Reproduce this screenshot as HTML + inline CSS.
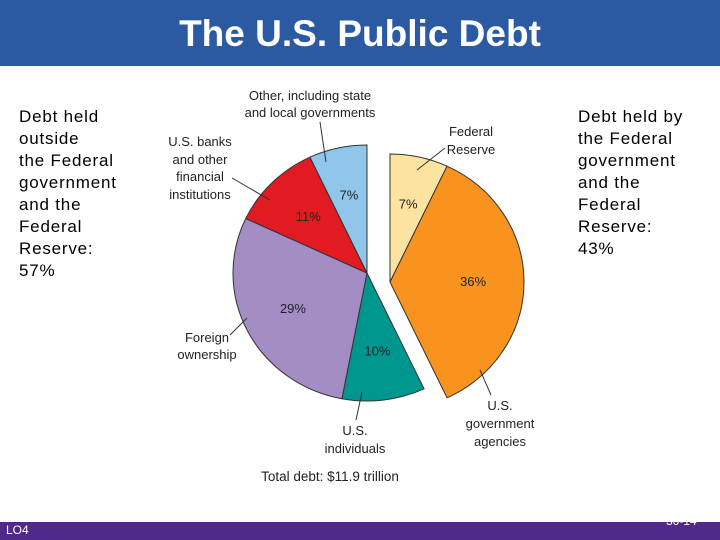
<!DOCTYPE html>
<html><head><meta charset="utf-8"><style>
body{margin:0;width:720px;height:540px;overflow:hidden;background:#fff;font-family:"Liberation Sans",sans-serif;position:relative}
.t{position:absolute}
</style></head><body>
<div class="t" style="left:0;top:0;width:720px;height:66px;background:#2b5aa3"></div>
<div class="t" style="left:0;top:13px;width:720px;text-align:center;color:#fff;font-weight:bold;font-size:37px">The U.S. Public Debt</div>
<div class="t" style="left:19px;top:106px;font-size:17px;letter-spacing:0.8px;line-height:22px;color:#000">Debt held<br>outside<br>the Federal<br>government<br>and the<br>Federal<br>Reserve:<br>57%</div>
<div class="t" style="left:578px;top:106px;font-size:17px;letter-spacing:0.8px;line-height:22px;color:#000">Debt held by<br>the Federal<br>government<br>and the<br>Federal<br>Reserve:<br>43%</div>
<svg class="t" style="left:0;top:0" width="720" height="540">
<g id="pie"></g>
<g font-family="Liberation Sans, sans-serif" font-size="13" fill="#222" text-anchor="middle">
<text x="310" y="100">Other, including state</text>
<text x="310" y="117">and local governments</text>
<text x="200" y="146">U.S. banks</text>
<text x="200" y="164">and other</text>
<text x="200" y="181">financial</text>
<text x="200" y="199">institutions</text>
<text x="471" y="136">Federal</text>
<text x="471" y="154">Reserve</text>
<text x="207" y="342">Foreign</text>
<text x="207" y="359">ownership</text>
<text x="355" y="435">U.S.</text>
<text x="355" y="453">individuals</text>
<text x="500" y="410">U.S.</text>
<text x="500" y="428">government</text>
<text x="500" y="446">agencies</text>
<text x="330" y="481" font-size="13.5">Total debt: $11.9 trillion</text>
</g>
<g stroke="#333" stroke-width="1">
<line x1="320" y1="122" x2="326" y2="162"/><line x1="232" y1="178" x2="270" y2="200"/>
<line x1="445" y1="148" x2="417" y2="170"/><line x1="230" y1="335" x2="247" y2="318"/>
<line x1="356" y1="420" x2="362" y2="392"/><line x1="491" y1="395" x2="480" y2="370"/>
</g>
</svg>
<div class="t" style="left:0;top:522px;width:720px;height:18px;background:#52288c"></div>
<div class="t" style="left:6px;top:523px;color:#fff;font-size:12px">LO4</div>
<div class="t" style="left:666px;top:514px;color:#fff;font-size:12px">30-14</div>
<script>
const categories=["Federal Reserve","U.S. government agencies","U.S. individuals","Foreign ownership","U.S. banks","Other"];
const values=[7,36,10,29,11,7];
const labels=["7%","36%","10%","29%","11%","7%"];
const colors=["#fde3a0","#f7931e","#009690","#a48cc4","#e21b23","#8fc6ea"];
const exploded=[true,true,false,false,false,false];
const g=document.getElementById('pie');
const ns="http://www.w3.org/2000/svg";
const total=values.reduce((a,b)=>a+b,0);
let cum=0;
function pt(cx,cy,rx,ry,a){return [cx+rx*Math.sin(a),cy-ry*Math.cos(a)];}
values.forEach((v,i)=>{
  const a0=cum/total*2*Math.PI; cum+=v; const a1=cum/total*2*Math.PI;
  const cx=exploded[i]?390:367, cy=exploded[i]?282:273, rx=134, ry=128;
  const p0=pt(cx,cy,rx,ry,a0), p1=pt(cx,cy,rx,ry,a1);
  const large=(a1-a0)>Math.PI?1:0;
  const path=document.createElementNS(ns,'path');
  path.setAttribute('d',`M${cx},${cy}L${p0[0]},${p0[1]}A${rx},${ry} 0 ${large} 1 ${p1[0]},${p1[1]}Z`);
  path.setAttribute('fill',colors[i]);path.setAttribute('stroke','#333');path.setAttribute('stroke-width','1');
  
  
  g.appendChild(path);
  const am=(a0+a1)/2, lp=pt(cx,cy,rx*0.62,ry*0.62,am);
  const t=document.createElementNS(ns,'text');
  t.setAttribute('x',lp[0]);t.setAttribute('y',lp[1]+4);t.setAttribute('text-anchor','middle');
  t.setAttribute('font-family','Liberation Sans, sans-serif');t.setAttribute('font-size','13');
  t.setAttribute('fill','#222');
  t.textContent=labels[i];
  
  
  g.appendChild(t);
});
</script>
</body></html>
